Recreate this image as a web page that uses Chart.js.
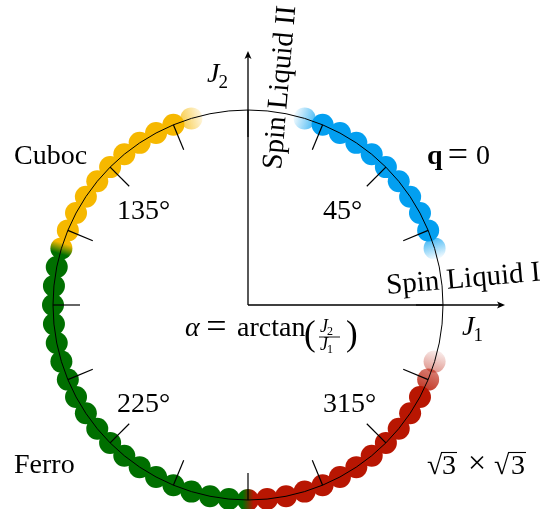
<!DOCTYPE html>
<html>
<head>
<meta charset="utf-8">
<script src="https://cdn.jsdelivr.net/npm/chart.js@4.4.1/dist/chart.umd.min.js"></script>
<style>
  html, body { margin: 0; padding: 0; background: #ffffff; }
  canvas { display: block; }
</style>
</head>
<body>
<canvas id="phase" width="540" height="509"></canvas>
<script>
// Ground-state phases of the J1-J2 model on the unit circle,
// alpha = arctan(J2/J1), given in degrees.
const q0Angles      = [16.875, 22.5, 28.125, 33.75, 39.375, 45, 50.625, 56.25, 61.875, 67.5, 73.125];
const cubocAngles   = [106.875, 112.5, 118.125, 123.75, 129.375, 135, 140.625, 146.25, 151.875, 157.5];
const cubocFerroAngles = [163.125];
const ferroAngles   = [168.75, 174.375, 180, 185.625, 191.25, 196.875, 202.5, 208.125, 213.75,
                       219.375, 225, 230.625, 236.25, 241.875, 247.5, 253.125, 258.75, 264.375];
const ferroSqrt3Angles = [270];
const sqrt3Angles   = [275.625, 281.25, 286.875, 292.5, 298.125, 303.75, 309.375, 315, 320.625,
                       326.25, 331.875, 337.5, 343.125];

// Angular tick marks and the four labelled angles
const tickAngles  = [0, 22.5, 45, 67.5, 90, 112.5, 135, 157.5, 180, 202.5, 225, 247.5, 270, 292.5, 315, 337.5];
const angleLabels = ['45°', '135°', '225°', '315°'];

// Geometry of the drawing (pixels)
const CX = 248, CY = 305, R = 195;
const W = 540, H = 509;
const DOT = 11;

const COLORS = {
  q0:    [3, 159, 240],
  cuboc: [246, 184, 0],
  ferro: [0, 111, 0],
  sqrt3: [184, 22, 2]
};

const rad = d => d * Math.PI / 180;
const toXY = a => ({ x: Math.cos(rad(a)), y: Math.sin(rad(a)) });
const rgba = (c, a) => `rgba(${c[0]},${c[1]},${c[2]},${a})`;

// Gradient across a dot, running along the direction of increasing alpha.
// stops: [[offset, css colour], ...]
function tangentGradient(c, stops) {
  const chart = c.chart;
  const sx = chart.scales.x, sy = chart.scales.y;
  if (!sx || !sy || !c.raw) return stops[0][1];
  const px = sx.getPixelForValue(c.raw.x), py = sy.getPixelForValue(c.raw.y);
  if (!isFinite(px) || !isFinite(py)) return stops[0][1];
  const a = Math.atan2(c.raw.y, c.raw.x);
  const tx = -Math.sin(a), ty = -Math.cos(a);   // pixel direction of increasing angle
  const g = chart.ctx.createLinearGradient(px - tx * DOT, py - ty * DOT, px + tx * DOT, py + ty * DOT);
  stops.forEach(s => g.addColorStop(s[0], s[1]));
  return g;
}

// Fill rules: solid colour, with faded ends where a phase boundary is uncertain
function phaseFill(color, fades) {
  return c => {
    const f = fades[c.dataIndex];
    if (!f) return rgba(color, 1);
    return tangentGradient(c, [[0, rgba(color, f[0])], [1, rgba(color, f[1])]]);
  };
}
function blendFill(from, to) {
  return c => tangentGradient(c, [[0, rgba(from, 1)], [0.25, rgba(from, 1)], [0.75, rgba(to, 1)], [1, rgba(to, 1)]]);
}

function dotSet(label, angles, fill) {
  return {
    label,
    data: angles.map(toXY),
    backgroundColor: fill,
    borderWidth: 0,
    pointRadius: DOT,
    pointHoverRadius: DOT,
    clip: false
  };
}

const datasets = [
  dotSet('q = 0', q0Angles, phaseFill(COLORS.q0, { 0: [0.03, 0.75], 10: [0.7, 0.05] })),
  dotSet('Cuboc', cubocAngles, phaseFill(COLORS.cuboc, { 0: [0.12, 0.7] })),
  dotSet('Cuboc / Ferro', cubocFerroAngles, blendFill(COLORS.cuboc, COLORS.ferro)),
  dotSet('Ferro', ferroAngles, phaseFill(COLORS.ferro, {})),
  dotSet('Ferro / √3×√3', ferroSqrt3Angles, blendFill(COLORS.ferro, COLORS.sqrt3)),
  dotSet('√3×√3', sqrt3Angles, phaseFill(COLORS.sqrt3, { 11: [0.85, 0.55], 12: [0.45, 0.08] }))
];

const SERIF = '"Liberation Serif", "Times New Roman", serif';
const FS = 28;

function text(ctx, s, x, y, font, align) {
  ctx.font = font;
  ctx.textAlign = align || 'left';
  ctx.fillText(s, x, y);
  return ctx.measureText(s).width;
}

// Circle, tick marks, axes and annotations
const overlay = {
  id: 'overlay',
  afterDatasetsDraw(chart) {
    const ctx = chart.ctx;
    const sx = chart.scales.x, sy = chart.scales.y;
    const ox = sx.getPixelForValue(0), oy = sy.getPixelForValue(0);
    const r = sx.getPixelForValue(1) - ox;
    ctx.save();
    ctx.strokeStyle = '#000';
    ctx.fillStyle = '#000';

    // unit circle
    ctx.lineWidth = 1;
    ctx.beginPath();
    ctx.arc(ox, oy, r, 0, Math.PI * 2);
    ctx.stroke();

    // radial ticks pointing inwards
    ctx.lineWidth = 1.2;
    tickAngles.forEach(a => {
      const c = Math.cos(rad(a)), s = Math.sin(rad(a));
      ctx.beginPath();
      ctx.moveTo(ox + c * r, oy - s * r);
      ctx.lineTo(ox + c * (r - 27), oy - s * (r - 27));
      ctx.stroke();
    });

    // J1 and J2 axes with arrow heads
    const xEnd = sx.getPixelForValue(1.318), yEnd = sy.getPixelForValue(1.303);
    ctx.lineWidth = 1.3;
    ctx.beginPath();
    ctx.moveTo(ox, oy); ctx.lineTo(xEnd - 4, oy);
    ctx.moveTo(ox, oy); ctx.lineTo(ox, yEnd + 4);
    ctx.stroke();
    ctx.beginPath();
    ctx.moveTo(xEnd, oy); ctx.lineTo(xEnd - 8, oy - 3.5); ctx.lineTo(xEnd - 6, oy); ctx.lineTo(xEnd - 8, oy + 3.5);
    ctx.closePath(); ctx.fill();
    ctx.beginPath();
    ctx.moveTo(ox, yEnd); ctx.lineTo(ox - 3.5, yEnd + 8); ctx.lineTo(ox, yEnd + 6); ctx.lineTo(ox + 3.5, yEnd + 8);
    ctx.closePath(); ctx.fill();

    ctx.textBaseline = 'alphabetic';
    const roman = `${FS}px ${SERIF}`;
    const ital = `italic ${FS}px ${SERIF}`;
    const sub = `19px ${SERIF}`;
    const eq = `36px ${SERIF}`;

    // axis names
    let w = text(ctx, 'J', 207, 82, ital);
    text(ctx, '2', 207 + w - 1, 88, sub);
    w = text(ctx, 'J', 462, 335, ital);
    text(ctx, '1', 462 + w - 1, 341, sub);

    // phase names
    text(ctx, 'Cuboc', 14, 164, roman);
    text(ctx, 'Ferro', 14, 473, roman);
    text(ctx, 'q', 427, 164, `bold ${FS}px ${SERIF}`);
    text(ctx, '=', 458, 166, eq, 'center');
    text(ctx, '0', 476, 164, roman);

    // √3 × √3
    ctx.lineWidth = 1.1;
    text(ctx, '√', 427, 474, roman);
    const w3 = text(ctx, '3', 442, 474, roman);
    ctx.beginPath(); ctx.moveTo(441, 452.5); ctx.lineTo(442 + w3 + 1, 452.5); ctx.stroke();
    text(ctx, '×', 477, 473, `32px ${SERIF}`, 'center');
    text(ctx, '√', 494, 474, roman);
    text(ctx, '3', 511, 474, roman);
    ctx.beginPath(); ctx.moveTo(508, 452.5); ctx.lineTo(511 + w3 + 1, 452.5); ctx.stroke();

    // rotated spin-liquid labels
    const slant = `29px ${SERIF}`;
    ctx.save();
    ctx.translate(387, 294);
    ctx.rotate(rad(-5));
    text(ctx, 'Spin Liquid I', 0, 0, slant);
    ctx.restore();
    ctx.save();
    ctx.translate(281, 170);
    ctx.rotate(rad(-85));
    text(ctx, 'Spin Liquid II', 0, 0, slant);
    ctx.restore();

    // labelled angles
    text(ctx, angleLabels[0], 323, 219, roman);
    text(ctx, angleLabels[1], 117, 219, roman);
    text(ctx, angleLabels[2], 117, 412, roman);
    text(ctx, angleLabels[3], 323, 412, roman);

    // alpha = arctan(J2 / J1)
    text(ctx, 'α', 185, 336, ital);
    text(ctx, '=', 216.5, 338, eq, 'center');
    text(ctx, 'arctan', 237, 336, roman);
    text(ctx, '(', 304, 345, `35px ${SERIF}`);
    const fx = 319;
    w = text(ctx, 'J', fx + 1, 332, `italic 18px ${SERIF}`);
    text(ctx, '2', fx + 1 + w - 1, 335, `12px ${SERIF}`);
    ctx.lineWidth = 0.9;
    ctx.beginPath(); ctx.moveTo(fx, 337); ctx.lineTo(fx + 21, 337); ctx.stroke();
    w = text(ctx, 'J', fx + 1, 350, `italic 18px ${SERIF}`);
    text(ctx, '1', fx + 1 + w - 1, 353, `12px ${SERIF}`);
    text(ctx, ')', 346, 345, `35px ${SERIF}`);

    ctx.restore();
  }
};

new Chart(document.getElementById('phase'), {
  type: 'scatter',
  data: { datasets },
  options: {
    responsive: false,
    animation: false,
    events: [],
    layout: { padding: 0, autoPadding: false },
    plugins: { legend: { display: false }, tooltip: { enabled: false } },
    scales: {
      x: { type: 'linear', display: false, min: -CX / R, max: (W - CX) / R },
      y: { type: 'linear', display: false, min: -(H - CY) / R, max: CY / R }
    }
  },
  plugins: [overlay]
});
</script>
</body>
</html>
